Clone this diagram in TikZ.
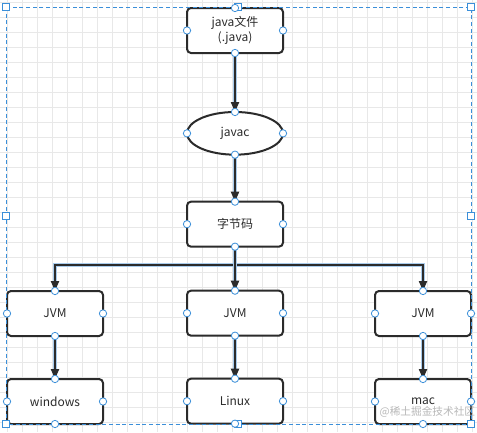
\documentclass[tikz,border=0pt]{standalone}
\usepackage{fontspec}
\setmainfont{Noto Sans CJK SC}
\usetikzlibrary{shapes.geometric, arrows.meta, positioning}
\definecolor{lineDark}{HTML}{2B2B2B}
\definecolor{handleBlue}{HTML}{3B8FD9}
\definecolor{gridGray}{HTML}{E8E8E8}
\definecolor{glowBlue}{HTML}{A9CBEB}
\definecolor{markGray}{HTML}{B8B8B8}

\begin{document}
\begin{tikzpicture}[
    x=0.75pt, y=-0.75pt,
    box/.style={
        draw=lineDark, line width=1.5pt, rounded corners=3pt, fill=white, outer sep=0pt,
        minimum width=72pt, minimum height=33.75pt, align=center,
        font=\fontsize{9}{11}\selectfont, text=lineDark
    },
    oval/.style={box, ellipse, sharp corners, minimum height=32pt},
    flow/.style={-{Triangle[length=7.5pt,width=6pt]}, line width=1.6pt, draw=lineDark,
        preaction={draw=glowBlue, line width=3pt, -}},
    handle/.style={circle, draw=handleBlue, fill=white, line width=0.6pt, inner sep=0pt, minimum size=5.5pt},
    grip/.style={rectangle, draw=handleBlue, fill=white, line width=0.8pt, inner sep=0pt, minimum size=5pt},
    gridline/.style={draw=gridGray, line width=0.5pt}
]
    \useasboundingbox (0,0) rectangle (477,432);
    \fill[white] (0,0) rectangle (477,432);
    \foreach \gx in {7,22,...,472} \draw[gridline] (\gx,0) -- (\gx,432);
    \foreach \gy in {2,17,...,430} \draw[gridline] (0,\gy) -- (477,\gy);

    % middle column
    \node[box] (java) at (235,30.5) {java文件\\(.java)};
    \node[oval, below=44.25pt of java] (javac) {javac};
    \node[box, below=35.25pt of javac] (bc) {字节码};
    \node[box, below=33pt of bc] (jvmM) {JVM};
    \node[box, below=32.25pt of jvmM] (lin) {Linux};

    % side columns
    \node[box] (jvmL) at (55,313.5) {JVM};
    \node[box] (jvmR) at (423,313.5) {JVM};
    \node[box, below=32.25pt of jvmL] (win) {windows};
    \node[box, below=32.25pt of jvmR] (mac) {mac};

    \coordinate (fork) at (235,265);

    \draw[flow] (java) -- (javac);
    \draw[flow] (javac) -- (bc);
    \draw[flow] (bc.south) -- (fork) -| (jvmL.north);
    \draw[flow] (bc.south) -- (fork) -| (jvmR.north);
    \draw[flow] (bc) -- (jvmM);
    \draw[flow] (jvmL) -- (win);
    \draw[flow] (jvmM) -- (lin);
    \draw[flow] (jvmR) -- (mac);

    \node[font=\fontsize{8}{10}\selectfont, text=markGray, anchor=west] (mark) at (375,412) {@稀土掘金技术社区};

    % selection frame
    \draw[handleBlue, line width=0.6pt, dash pattern=on 3pt off 2pt] (6,7) rectangle (471,424);
    \foreach \gx/\gy in {6/7, 238/7, 471/7, 6/216, 471/216, 6/424, 238/424, 471/424}
        \node[grip] at (\gx,\gy) {};

    \foreach \n in {java,javac,bc,jvmL,jvmM,jvmR,win,lin,mac}
        \foreach \a in {north,south,east,west}
            \node[handle] at (\n.\a) {};
\end{tikzpicture}
\end{document}
